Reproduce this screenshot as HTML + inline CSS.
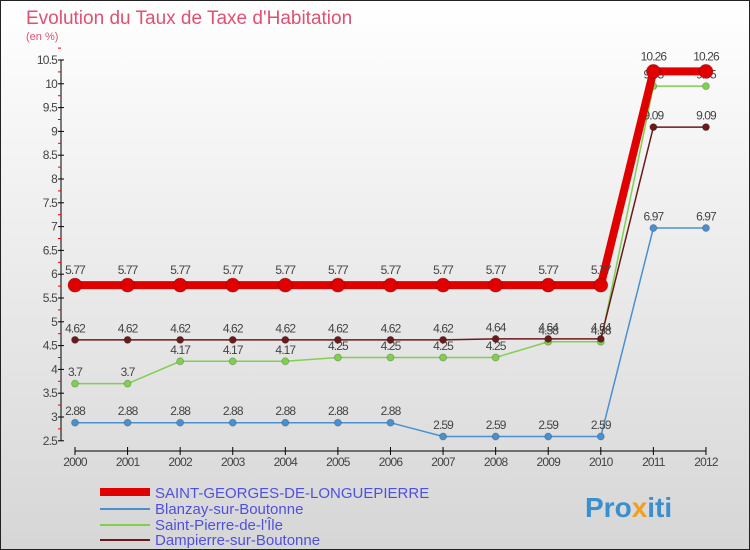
<!DOCTYPE html>
<html><head><meta charset="utf-8"><style>
body{margin:0}
svg{display:block;font-family:"Liberation Sans",sans-serif}
</style></head><body>
<svg id="c" width="750" height="550" xmlns="http://www.w3.org/2000/svg">
<defs><linearGradient id="bg" x1="0" y1="0" x2="0" y2="1"><stop offset="0" stop-color="#ffffff"/><stop offset="1" stop-color="#d6d6d6"/></linearGradient></defs>
<rect x="0.5" y="0.5" width="749" height="549" fill="url(#bg)" stroke="#222"/>
<text x="26" y="24" font-size="19" fill="#e05070">Evolution du Taux de Taxe d'Habitation</text>
<text x="26" y="40" font-size="11" fill="#e05070">(en %)</text>
<g id="axes"></g><g id="series"></g>
<g>
<line x1="100" y1="492" x2="150" y2="492" stroke="#e00000" stroke-width="8"/>
<text x="155" y="498" font-size="15" fill="#5050e0">SAINT-GEORGES-DE-LONGUEPIERRE</text>
<line x1="100" y1="509" x2="150" y2="509" stroke="#4a90d0" stroke-width="2"/>
<text x="155" y="514" font-size="15" fill="#5050e0">Blanzay-sur-Boutonne</text>
<line x1="100" y1="525" x2="150" y2="525" stroke="#80d050" stroke-width="2"/>
<text x="155" y="530" font-size="15" fill="#5050e0">Saint-Pierre-de-l'Île</text>
<line x1="100" y1="540" x2="150" y2="540" stroke="#6a1a1a" stroke-width="2"/>
<text x="155" y="545" font-size="15" fill="#5050e0">Dampierre-sur-Boutonne</text>
</g>
<text x="585" y="517" font-size="28" font-weight="bold" fill="#3a8fd0">Pro<tspan fill="#f0a020">x</tspan>iti</text>
</svg>
<script>
const years=[2000,2001,2002,2003,2004,2005,2006,2007,2008,2009,2010,2011,2012];
const yTicks=[2.5,3,3.5,4,4.5,5,5.5,6,6.5,7,7.5,8,8.5,9,9.5,10,10.5];
const stGeorges=[5.77,5.77,5.77,5.77,5.77,5.77,5.77,5.77,5.77,5.77,5.77,10.26,10.26];
const blanzay=[2.88,2.88,2.88,2.88,2.88,2.88,2.88,2.59,2.59,2.59,2.59,6.97,6.97];
const stPierre=[3.7,3.7,4.17,4.17,4.17,4.25,4.25,4.25,4.25,4.58,4.58,9.95,9.95];
const dampierre=[4.62,4.62,4.62,4.62,4.62,4.62,4.62,4.62,4.64,4.64,4.64,9.09,9.09];
const NS="http://www.w3.org/2000/svg";
const X=i=>75+i*52.58;
const Y=v=>60+(10.5-v)*47.6;
function mk(t,a,p){const e=document.createElementNS(NS,t);for(const k in a)e.setAttribute(k,a[k]);p.appendChild(e);return e;}
const ax=document.getElementById('axes');
let l=mk('line',{x1:61,y1:Y(10.5),x2:61,y2:Y(2.5),stroke:'#000'},ax);


yTicks.forEach(v=>{
 mk('line',{x1:58,y1:Y(v),x2:64,y2:Y(v),stroke:'#000'},ax);
 mk('line',{x1:58,y1:Y(v+0.25),x2:61,y2:Y(v+0.25),stroke:'#e00'},ax);
 const t=mk('text',{x:57,y:Y(v)+4,'font-size':12,fill:'#444','text-anchor':'end','letter-spacing':'-0.8'},ax);
 t.textContent=String(v);
 
 
});
l=mk('line',{x1:X(0),y1:451,x2:X(12),y2:451,stroke:'#000'},ax);


years.forEach((y,i)=>{
 mk('line',{x1:X(i),y1:447,x2:X(i),y2:455,stroke:'#000'},ax);
 const t=mk('text',{x:X(i),y:466,'font-size':12,fill:'#444','text-anchor':'middle','letter-spacing':'-0.8'},ax);
 t.textContent=String(y);
 
 
});
const sg=document.getElementById('series');
function series(vals,col,w,r,name){
 const g=mk('g',{},sg);
 
 
 const p=mk('polyline',{points:vals.map((v,i)=>X(i)+','+Y(v)).join(' '),fill:'none',stroke:col,'stroke-width':w},g);
 
 
 vals.forEach((v,i)=>{
  const c=mk('circle',{cx:X(i),cy:Y(v),r:r,fill:col,stroke:'rgba(0,0,0,0.2)'},g);
  
  
  const t=mk('text',{x:X(i),y:Y(v)-r-4,'font-size':12,fill:'#444','text-anchor':'middle','letter-spacing':'-0.9'},g);
  t.textContent=String(v);
  
  
 });
}
series(blanzay,'#4a90d0',1.5,3.5,'blanzay');
series(stPierre,'#80d050',1.5,3.5,'saint-pierre');
series(dampierre,'#6a1a1a',1.5,3.5,'dampierre');
series(stGeorges,'#e00000',8,7,'saint-georges');
</script>
</body></html>
